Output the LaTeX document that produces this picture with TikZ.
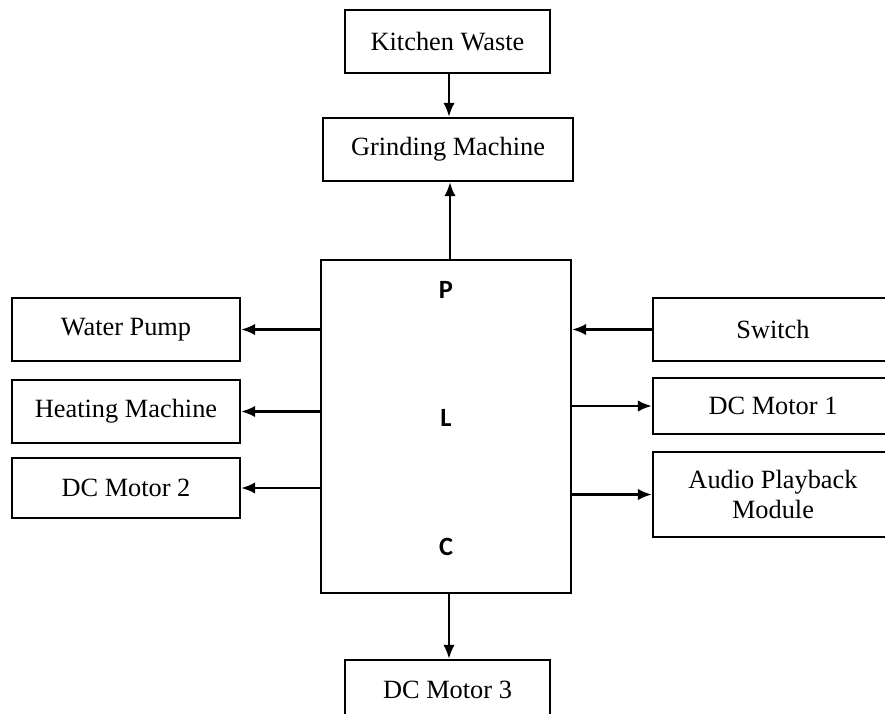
\documentclass[tikz,border=0pt]{standalone}
\usepackage{fontspec}
\setmainfont{Liberation Serif}
\newfontfamily\plcfont{Carlito}
\usetikzlibrary{arrows.meta,calc}

\tikzset{
  blockbox/.style={draw,line width=1.3pt,align=center,inner sep=0pt,
    font=\fontsize{15}{17}\selectfont},
  letter/.style={font=\plcfont\bfseries\fontsize{15}{17}\selectfont},
  link/.style={-{Latex[length=8pt,width=6.5pt]},line width=1.3pt}
}

\begin{document}
\begin{tikzpicture}[x=0.02cm,y=-0.02cm]
    \clip (0,0) rectangle (885,713);
    % top chain
    \node[blockbox,minimum width=4.1cm,minimum height=1.26cm] (waste) at (447.5,41.5) {Kitchen Waste};
    \node[blockbox,minimum width=5cm,minimum height=1.26cm] (grind) at (448,149.5) {Grinding Machine};
    % controller
    \node[blockbox,minimum width=5cm,minimum height=6.66cm] (plc) at (446,426.5) {};
    \node[letter] (p) at (446,290) {P};
    \node[letter] (l) at (446,418) {L};
    \node[letter] (c) at (446,547) {C};
    % left side
    \node[blockbox,minimum width=4.56cm,minimum height=1.26cm] (pump) at (126,329.5) {Water Pump};
    \node[blockbox,minimum width=4.56cm,minimum height=1.26cm] (heat) at (126,411.5) {Heating Machine};
    \node[blockbox,minimum width=4.56cm,minimum height=1.2cm] (motortwo) at (126,488) {DC Motor 2};
    % right side, cut by the page edge
    \node[blockbox,minimum width=4.8cm,minimum height=1.26cm] (switch) at (773,329.5) {Switch};
    \node[blockbox,minimum width=4.8cm,minimum height=1.12cm] (motorone) at (773,406) {DC Motor 1};
    \node[blockbox,minimum width=4.8cm,minimum height=1.7cm] (audio) at (773,494.5) {Audio Playback\\Module};
    % bottom
    \node[blockbox,minimum width=4.1cm,minimum height=1.2cm] (motorthree) at (447.5,690) {DC Motor 3};
    % arrows
    \draw[link] (waste.south -| 449,0) -- (grind.north -| 449,0);
    \draw[link] (plc.north -| 450,0) -- (grind.south -| 450,0);
    \draw[link] (plc.west |- pump) -- (pump);
    \draw[link] (plc.west |- heat) -- (heat);
    \draw[link] (plc.west |- motortwo) -- (motortwo);
    \draw[link] (switch) -- (switch -| plc.east);
    \draw[link] (plc.east |- motorone) -- (motorone);
    \draw[link] (plc.east |- audio) -- (audio);
    \draw[link] (plc.south -| 449,0) -- (motorthree.north -| 449,0);
\end{tikzpicture}
\end{document}
